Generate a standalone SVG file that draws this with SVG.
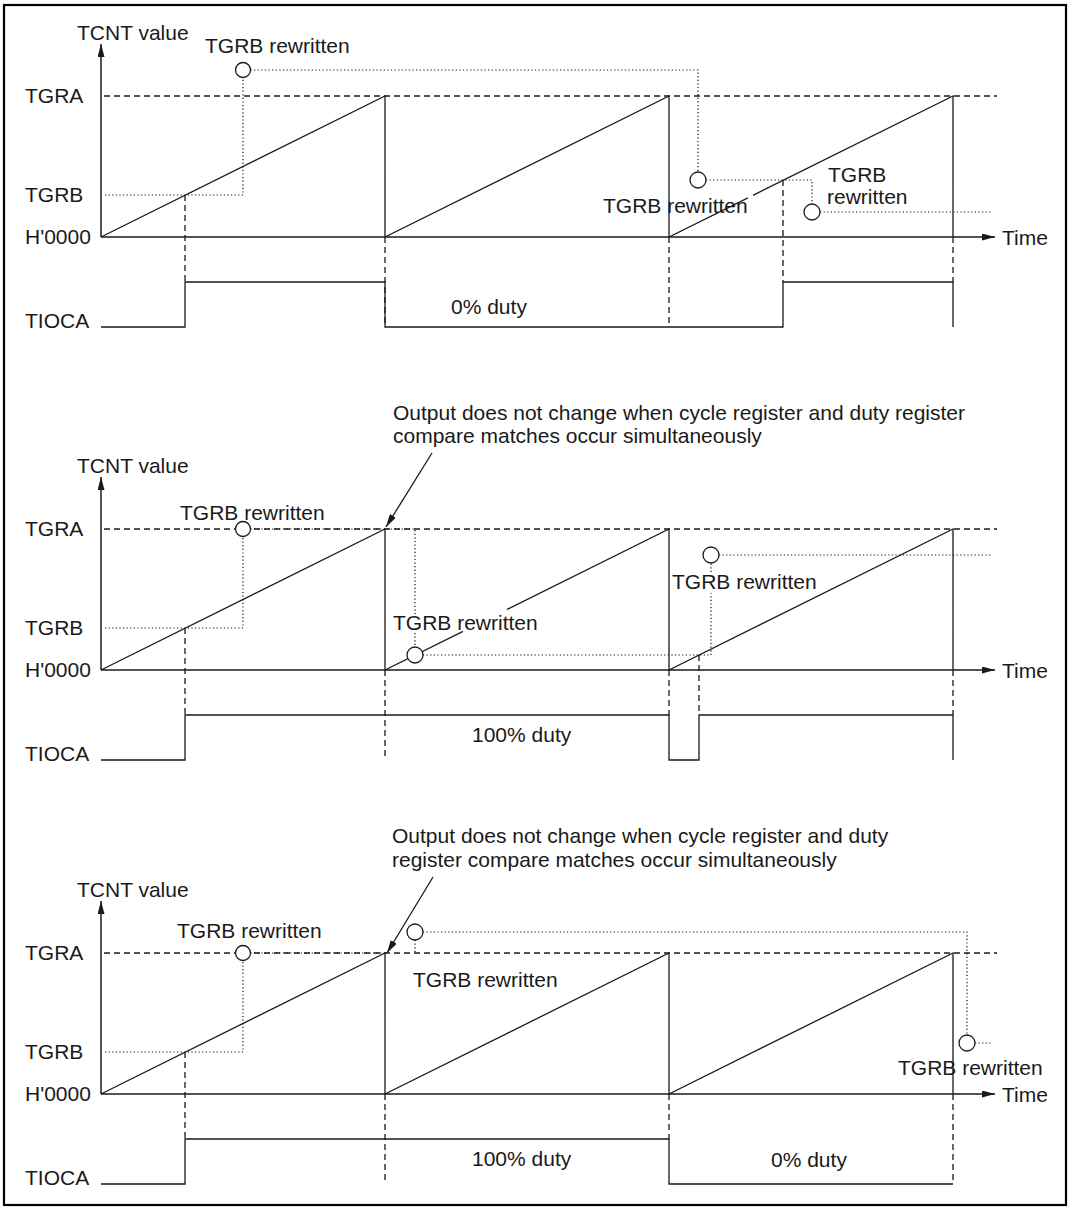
<svg xmlns="http://www.w3.org/2000/svg" width="1072" height="1207" viewBox="0 0 1072 1207">
<defs>
<marker id="ah" markerUnits="userSpaceOnUse" markerWidth="13" markerHeight="7" refX="13" refY="3.5" orient="auto">
<path d="M0,0 L13,3.5 L0,7 z" fill="#1a1a1a"/>
</marker>
</defs>
<style>
.t{font-family:"Liberation Sans",Arial,sans-serif;font-size:21px;fill:#1a1a1a}
.s{fill:none;stroke:#1a1a1a;stroke-width:1.3}
.ax{fill:none;stroke:#1a1a1a;stroke-width:1.5}
.d{fill:none;stroke:#1a1a1a;stroke-width:1.3;stroke-dasharray:6 4}
.o{fill:none;stroke:#111;stroke-width:1.2;stroke-dasharray:1.2 2.4}
.c{fill:#fff;stroke:#1a1a1a;stroke-width:1.3}
</style>
<rect x="4" y="5" width="1062" height="1200" fill="#fff" stroke="#000" stroke-width="2.2"/>

<g id="panel1">
<g id="p1-labels">
<text class="t" x="77" y="40">TCNT value</text>
<text class="t" x="25" y="103">TGRA</text>
<text class="t" x="25" y="202">TGRB</text>
<text class="t" x="25" y="244">H'0000</text>
<text class="t" x="25" y="328">TIOCA</text>
<text class="t" x="1002" y="245">Time</text>
<text class="t" x="205" y="53">TGRB rewritten</text>
<text class="t" x="603" y="213">TGRB rewritten</text>
<text class="t" x="828" y="182">TGRB</text>
<text class="t" x="827" y="204">rewritten</text>
<text class="t" x="451" y="314">0% duty</text>
</g>
<g id="p1-connectors">
<line class="ax" x1="101" y1="237" x2="101" y2="44" marker-end="url(#ah)"/>
<line class="ax" x1="101" y1="237" x2="995" y2="237" marker-end="url(#ah)"/>
<line class="d" x1="104" y1="96" x2="997" y2="96"/>
<path class="s" d="M101,237 L385,96 V237 L669,96 V237 L748,197.8 M753,195.3 L953,96 V237"/>
<path class="d" d="M185,195 V282 M385,237 V327 M669,237 V327 M783,180 V282 M953,237 V282"/>
<path class="o" d="M105,195 H243 V77.5 M250.5,70 H698 V172 M706,180 H812 V204 M820,212 H992"/>
<polyline class="s" points="101,327 185,327 185,282 385,282 385,327 783,327 783,282 953,282 953,327"/>
<circle class="c" cx="243" cy="70" r="7.5"/>
<circle class="c" cx="698" cy="180" r="8"/>
<circle class="c" cx="812" cy="212" r="8"/>
</g>
</g>

<g id="panel2" transform="translate(0,433)">
<g id="p2-labels">
<text class="t" x="393" y="-13">Output does not change when cycle register and duty register</text>
<text class="t" x="393" y="10">compare matches occur simultaneously</text>
<text class="t" x="77" y="40">TCNT value</text>
<text class="t" x="25" y="103">TGRA</text>
<text class="t" x="25" y="202">TGRB</text>
<text class="t" x="25" y="244">H'0000</text>
<text class="t" x="25" y="328">TIOCA</text>
<text class="t" x="1002" y="245">Time</text>
<text class="t" x="180" y="87">TGRB rewritten</text>
<text class="t" x="393" y="197">TGRB rewritten</text>
<text class="t" x="672" y="156">TGRB rewritten</text>
<text class="t" x="472" y="309">100% duty</text>
</g>
<g id="p2-connectors">
<line class="ax" x1="101" y1="237" x2="101" y2="44" marker-end="url(#ah)"/>
<line class="ax" x1="101" y1="237" x2="995" y2="237" marker-end="url(#ah)"/>
<line class="d" x1="104" y1="96" x2="997" y2="96"/>
<path class="s" d="M101,237 L385,96 V237 L463,198.3 M507,176.4 L669,96 V237 L953,96 V237"/>
<path class="d" d="M185,195 V282 M385,237 V327 M669,237 V282 M699,222 V282 M953,237 V282"/>
<path class="o" d="M105,195 H243 V103.5 M250.5,96 H415 V181 M415,200 V214 M423,222 H711 V160 M711,139 V130 M719,122 H992"/>
<polyline class="s" points="101,327 185,327 185,282 669,282 669,327 699,327 699,282 953,282 953,327"/>
<line class="s" x1="432" y1="20" x2="386" y2="94" marker-end="url(#ah)"/>
<circle class="c" cx="243" cy="96" r="7.5"/>
<circle class="c" cx="415" cy="222" r="8"/>
<circle class="c" cx="711" cy="122" r="8"/>
</g>
</g>

<g id="panel3" transform="translate(0,857)">
<g id="p3-labels">
<text class="t" x="392" y="-14">Output does not change when cycle register and duty</text>
<text class="t" x="392" y="10">register compare matches occur simultaneously</text>
<text class="t" x="77" y="40">TCNT value</text>
<text class="t" x="25" y="103">TGRA</text>
<text class="t" x="25" y="202">TGRB</text>
<text class="t" x="25" y="244">H'0000</text>
<text class="t" x="25" y="328">TIOCA</text>
<text class="t" x="1002" y="245">Time</text>
<text class="t" x="177" y="81">TGRB rewritten</text>
<text class="t" x="413" y="130">TGRB rewritten</text>
<text class="t" x="898" y="218">TGRB rewritten</text>
<text class="t" x="472" y="309">100% duty</text>
<text class="t" x="771" y="310">0% duty</text>
</g>
<g id="p3-connectors">
<line class="ax" x1="101" y1="237" x2="101" y2="44" marker-end="url(#ah)"/>
<line class="ax" x1="101" y1="237" x2="995" y2="237" marker-end="url(#ah)"/>
<line class="d" x1="104" y1="96" x2="997" y2="96"/>
<path class="s" d="M101,237 L385,96 V237 L669,96 V237 L953,96 V237"/>
<path class="d" d="M185,195 V282 M385,237 V327 M669,237 V282 M953,237 V327"/>
<path class="o" d="M105,195 H243 V103.5 M250.5,96 H385 M415,83 V96 M423,75 H967 V178 M975,186 H992"/>
<polyline class="s" points="101,327 185,327 185,282 669,282 669,327 953,327"/>
<line class="s" x1="433" y1="20" x2="387" y2="96" marker-end="url(#ah)"/>
<circle class="c" cx="243" cy="96" r="7.5"/>
<circle class="c" cx="415" cy="75" r="8"/>
<circle class="c" cx="967" cy="186" r="8"/>
</g>
</g>
</svg>
